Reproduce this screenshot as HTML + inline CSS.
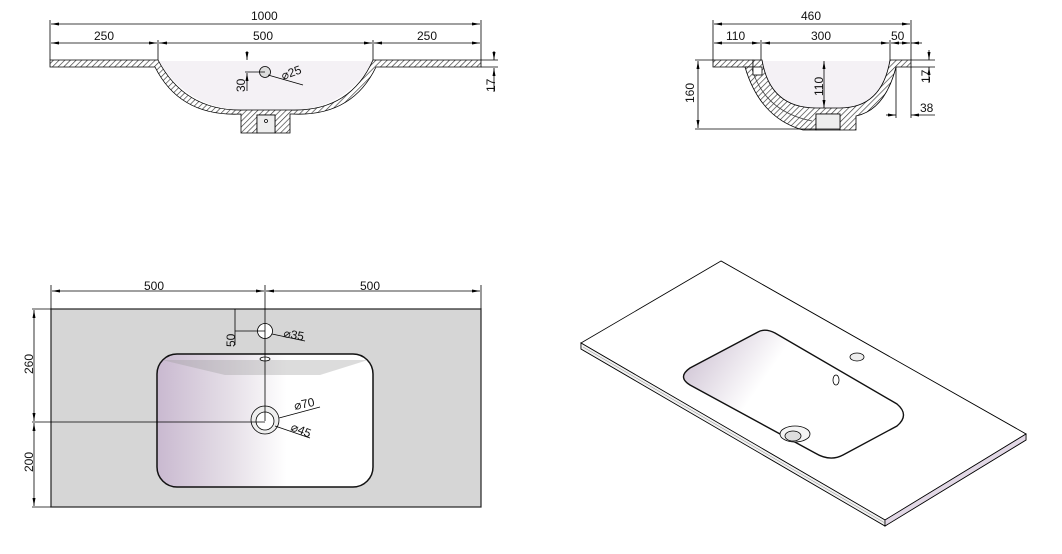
<!DOCTYPE html>
<html><head><meta charset="utf-8"><style>
html,body{margin:0;padding:0;background:#fff;}
svg{display:block}
text{font-family:"Liberation Sans",sans-serif;font-size:12px;fill:#111;}
</style></head><body>
<svg width="1062" height="554" viewBox="0 0 1062 554" xmlns="http://www.w3.org/2000/svg">
<defs>
<pattern id="h" width="4" height="4" patternUnits="userSpaceOnUse" patternTransform="rotate(45)">
<rect width="4" height="4" fill="#fff"/><line x1="0" y1="0" x2="0" y2="4" stroke="#333" stroke-width="1.3"/></pattern>
<marker id="a" markerWidth="8" markerHeight="6" refX="8" refY="3" orient="auto-start-reverse" markerUnits="userSpaceOnUse"><path d="M0,1.5 L8,3 L0,4.5z" fill="#000"/></marker>
<linearGradient id="bw" x1="0" x2="1"><stop offset="0" stop-color="#c9b9d0"/><stop offset="0.35" stop-color="#e6e0e8"/><stop offset="0.6" stop-color="#fff"/></linearGradient>
<linearGradient id="iw" x1="0" x2="1" y1="0" y2="0.4"><stop offset="0" stop-color="#c6b8cc"/><stop offset="0.45" stop-color="#fff"/></linearGradient>
</defs>
<g stroke="#000" stroke-width="0.8" fill="none">
<path d="M158,61 Q190,110 245,110 L290,110 Q345,110 373,61 Z" fill="#f4f1f5" stroke="none"/>
<path d="M50,60 L158,60 Q185,112 245,110 L290,110 Q350,112 373,60 L481,60 L481,67 L376,67 Q352,117 292,114 L290,114 L290,133 L275,133 L275,115 L257,115 L257,133 L241,133 L241,114 Q180,117 155,67 L50,67 Z" fill="url(#h)"/>
<rect x="257" y="115" width="18" height="18" fill="#eee"/>
<circle cx="265" cy="72" r="5.5" fill="#ddd"/>
<circle cx="266" cy="121" r="1.5" fill="#fff"/>
<line x1="50" y1="20" x2="50" y2="60"/><line x1="481" y1="20" x2="481" y2="60"/>
<line x1="158" y1="40" x2="158" y2="60"/><line x1="373" y1="40" x2="373" y2="60"/>
<line x1="51" y1="24" x2="480" y2="24" marker-start="url(#a)" marker-end="url(#a)"/>
<line x1="51" y1="43" x2="157" y2="43" marker-start="url(#a)" marker-end="url(#a)"/>
<line x1="159" y1="43" x2="372" y2="43" marker-start="url(#a)" marker-end="url(#a)"/>
<line x1="374" y1="43" x2="480" y2="43" marker-start="url(#a)" marker-end="url(#a)"/>
<line x1="247" y1="51" x2="247" y2="60" marker-end="url(#a)"/><line x1="247" y1="91" x2="247" y2="73" marker-end="url(#a)"/>
<line x1="245" y1="72" x2="265" y2="72"/>
<line x1="268" y1="75" x2="303" y2="85"/>
<line x1="481" y1="60" x2="498" y2="60"/><line x1="481" y1="67" x2="498" y2="67"/>
<line x1="494" y1="51" x2="494" y2="60" marker-end="url(#a)"/><line x1="494" y1="92" x2="494" y2="68" marker-end="url(#a)"/>
<path d="M754,61 Q770,110 820,109 L840,109 Q880,108 890,61 Z" fill="#f4f1f5" stroke="none"/>
<path d="M713,60 L753,60 L753,67 L713,67 Z" fill="url(#h)"/>
<path d="M753,60 L762,60 Q770,108 816,108 L840,108 Q882,108 890,60 L911,60 L911,67 L896,67 Q885,110 856,116 L856,130 L840,130 L840,114 L816,114 L816,130 L803,130 Q760,118 745,67 L753,67 Z" fill="url(#h)"/>
<rect x="816" y="114" width="24" height="16" fill="#eee"/>
<path d="M752,69 Q765,112 812,121" stroke="#444"/>
<rect x="753" y="67" width="9" height="8" fill="#fff"/>
<line x1="713" y1="20" x2="713" y2="60"/><line x1="911" y1="20" x2="911" y2="60"/>
<line x1="761" y1="40" x2="761" y2="60"/><line x1="890" y1="40" x2="890" y2="60"/>
<line x1="714" y1="24" x2="910" y2="24" marker-start="url(#a)" marker-end="url(#a)"/>
<line x1="714" y1="43" x2="760" y2="43" marker-start="url(#a)" marker-end="url(#a)"/>
<line x1="762" y1="43" x2="889" y2="43" marker-start="url(#a)" marker-end="url(#a)"/>
<line x1="891" y1="43" x2="910" y2="43" marker-start="url(#a)" marker-end="url(#a)"/>
<line x1="911" y1="43" x2="922" y2="43" marker-start="url(#a)"/>
<line x1="824" y1="61" x2="824" y2="108" marker-start="url(#a)" marker-end="url(#a)"/>
<line x1="695" y1="60" x2="713" y2="60"/><line x1="695" y1="129" x2="840" y2="129"/>
<line x1="698" y1="61" x2="698" y2="128" marker-start="url(#a)" marker-end="url(#a)"/>
<line x1="911" y1="67" x2="935" y2="67"/><line x1="911" y1="60" x2="935" y2="60"/>
<line x1="929" y1="50" x2="929" y2="60" marker-end="url(#a)"/><line x1="929" y1="67" x2="929" y2="83" marker-start="url(#a)"/>
<line x1="896" y1="67" x2="896" y2="118"/><line x1="911" y1="67" x2="911" y2="118"/>
<line x1="886" y1="115" x2="896" y2="115" marker-end="url(#a)"/><line x1="911" y1="115" x2="935" y2="115" marker-start="url(#a)"/>
<rect x="51" y="309" width="430" height="198" fill="#d6d6d6" stroke="#222" stroke-width="1.2"/>
<rect x="157" y="354" width="216" height="133" rx="20" fill="url(#bw)" stroke="#111" stroke-width="1.5"/>
<path d="M162,360 L225,375 L320,375 L368,360" stroke="none" fill="#9a9a9a" opacity="0.35"/>
<circle cx="265" cy="331" r="7.5" fill="#fff"/>
<ellipse cx="265" cy="359" rx="5" ry="2" fill="#fff"/>
<circle cx="265" cy="420" r="14" fill="#eee"/><circle cx="265" cy="421" r="9" fill="#fff"/>
<line x1="51" y1="285" x2="51" y2="309"/><line x1="481" y1="285" x2="481" y2="309"/>
<line x1="52" y1="291" x2="264" y2="291" marker-start="url(#a)" marker-end="url(#a)"/>
<line x1="266" y1="291" x2="480" y2="291" marker-start="url(#a)" marker-end="url(#a)"/>
<line x1="265" y1="285" x2="265" y2="421"/>
<line x1="32" y1="309" x2="51" y2="309"/><line x1="32" y1="507" x2="51" y2="507"/>
<line x1="32" y1="422" x2="265" y2="422"/>
<line x1="34" y1="310" x2="34" y2="421" marker-start="url(#a)" marker-end="url(#a)"/>
<line x1="34" y1="423" x2="34" y2="506" marker-start="url(#a)" marker-end="url(#a)"/>
<line x1="235" y1="309" x2="235" y2="345"/><line x1="235" y1="331" x2="265" y2="331"/>
<line x1="272" y1="334" x2="305" y2="341"/>
<line x1="279" y1="418" x2="320" y2="407"/>
<line x1="275" y1="426" x2="310" y2="438"/>
<path d="M721,261 L1026,434 L1026,440 L885,526 L885,520 L581,343 L581,349 L885,526" fill="#fff"/>
<path d="M581,343 L721,261 L1026,434 L885,520 Z" fill="#fff"/>
<path d="M581,343 L581,349 L885,526 L885,520 Z" fill="#f2f2f2"/>
<path d="M885,520 L885,526 L1026,440 L1026,434 Z" fill="#e2d8e6"/>
<line x1="583" y1="347" x2="885" y2="523" stroke="#888" stroke-width="0.5"/>
<path d="M758,332 Q765,328 775,333 L897,404 Q910,415 897,426 L843,455 Q830,462 815,453 L690,385 Q677,377 690,368 Z" fill="url(#iw)" stroke="#111" stroke-width="1.4"/>
<ellipse cx="857" cy="357" rx="7" ry="4" fill="#eee"/>
<ellipse cx="836" cy="380" rx="3" ry="5" fill="#fff"/>
<ellipse cx="795" cy="434" rx="15" ry="8" fill="#f4f4f4"/>
<ellipse cx="793" cy="436" rx="8" ry="5" fill="#ddd"/>
</g>
<text x="251" y="20">1000</text>
<text x="94" y="40">250</text><text x="253" y="40">500</text><text x="417" y="40">250</text>
<text x="283" y="80" transform="rotate(-20 283 80)">⌀25</text>
<text x="0" y="0" transform="translate(245,92) rotate(-90)">30</text>
<text x="0" y="0" transform="translate(495,92) rotate(-90)">17</text>
<text x="801" y="20">460</text>
<text x="726" y="40">110</text><text x="811" y="40">300</text><text x="891" y="40">50</text>
<text x="0" y="0" transform="translate(823,96) rotate(-90)">110</text>
<text x="0" y="0" transform="translate(694,103) rotate(-90)">160</text>
<text x="0" y="0" transform="translate(930,83) rotate(-90)">17</text>
<text x="920" y="112">38</text>
<text x="144" y="290">500</text><text x="360" y="290">500</text>
<text x="0" y="0" transform="translate(33,374) rotate(-90)">260</text>
<text x="0" y="0" transform="translate(33,472) rotate(-90)">200</text>
<text x="0" y="0" transform="translate(235,347) rotate(-90)">50</text>
<text x="283" y="337" transform="rotate(10 283 337)">⌀35</text>
<text x="295" y="410" transform="rotate(-12 295 410)">⌀70</text>
<text x="290" y="430" transform="rotate(22 290 430)">⌀45</text>
</svg>
</body></html>
